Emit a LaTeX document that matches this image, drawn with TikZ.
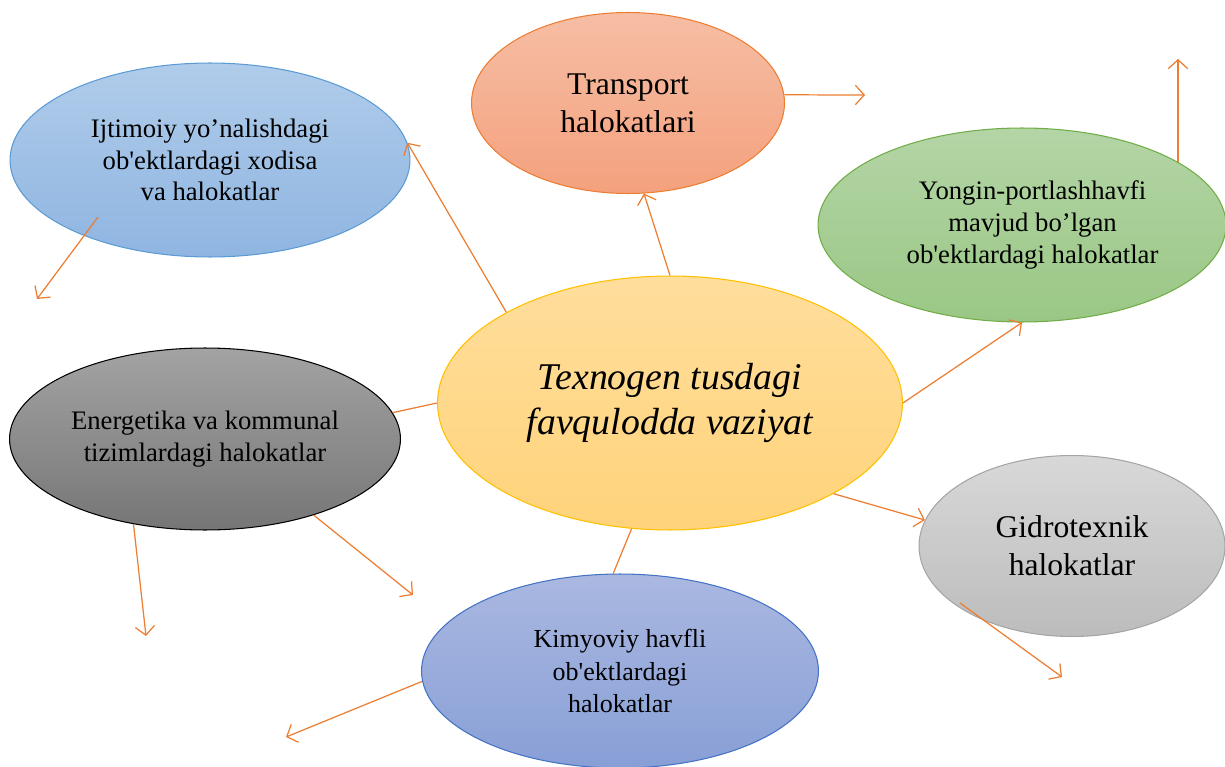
\documentclass[tikz,border=0pt]{standalone}
\usepackage{fontspec}
\setmainfont{Liberation Serif}
\usetikzlibrary{shapes.geometric,arrows.meta}
\definecolor{arrorange}{HTML}{ED7D31}
\definecolor{ijtA}{HTML}{B0CCEA}
\definecolor{ijtB}{HTML}{8FB5E1}
\definecolor{ijtL}{HTML}{5B9BD5}
\definecolor{trnA}{HTML}{F6BEA5}
\definecolor{trnB}{HTML}{F4A17D}
\definecolor{yngA}{HTML}{B4D5A6}
\definecolor{yngB}{HTML}{9AC785}
\definecolor{yngL}{HTML}{70AD47}
\definecolor{cenA}{HTML}{FFDE9C}
\definecolor{cenB}{HTML}{FFD37A}
\definecolor{cenL}{HTML}{FFC000}
\definecolor{enrA}{HTML}{A3A3A3}
\definecolor{enrB}{HTML}{767676}
\definecolor{gidA}{HTML}{D8D8D8}
\definecolor{gidB}{HTML}{BCBCBC}
\definecolor{gidL}{HTML}{A5A5A5}
\definecolor{kimA}{HTML}{AAB8E1}
\definecolor{kimB}{HTML}{889FD6}
\definecolor{kimL}{HTML}{4472C4}
\newcommand{\sqt}{\textquotesingle}
\tikzstyle{myoval} = [ellipse, inner sep=0pt, align=center, line width=0.6pt]
\tikzstyle{smalltext} = [font=\fontsize{15.2}{18}\selectfont]
\tikzstyle{bigtext} = [font=\fontsize{18}{21.5}\selectfont]
\tikzstyle{myarrow} = [draw=arrorange, line width=0.7pt, -{Straight Barb[length=5pt,width=11pt]}]
\tikzstyle{myline} = [draw=arrorange, line width=0.7pt]

\begin{document}
\begin{tikzpicture}[x=0.02cm,y=-0.02cm]
\useasboundingbox (0,0) rectangle (1225,767);
% ovals
\node [myoval, smalltext, minimum width=8cm, minimum height=3.88cm,
    top color=ijtA, bottom color=ijtB, draw=ijtL] (ijt) at (210,160)
    {Ijtimoiy yo’nalishdagi\\ ob\sqt ektlardagi xodisa\\ va halokatlar};
\node [myoval, bigtext, minimum width=6.26cm, minimum height=3.62cm,
    top color=trnA, bottom color=trnB, draw=arrorange] (trans) at (628,103)
    {Transport\\ halokatlari};
\node [myoval, smalltext, minimum width=8.16cm, minimum height=3.88cm,
    top color=yngA, bottom color=yngB, draw=yngL] (yong) at (1022,225)
    {\hspace*{12pt}Yongin-portlashhavfi\\ \hspace*{12pt}mavjud bo’lgan\\ \hspace*{12pt}ob\sqt ektlardagi halokatlar};
\node [myoval, font=\fontsize{21.5}{25.5}\selectfont\itshape, minimum width=9.3cm, minimum height=5.08cm,
    top color=cenA, bottom color=cenB, draw=cenL] (centr) at (670,403)
    {Texnogen tusdagi\\ favqulodda vaziyat};
\node [myoval, smalltext, minimum width=7.82cm, minimum height=3.64cm,
    top color=enrA, bottom color=enrB, draw=black] (energ) at (205,439)
    {Energetika va kommunal\\ tizimlardagi halokatlar};
\node [myoval, bigtext, minimum width=6.12cm, minimum height=3.62cm,
    top color=gidA, bottom color=gidB, draw=gidL] (gidro) at (1072,546)
    {Gidrotexnik\\ halokatlar};
\node [myoval, font=\fontsize{14.8}{18.3}\selectfont, minimum width=7.94cm, minimum height=3.88cm,
    top color=kimA, bottom color=kimB, draw=kimL] (kimyo) at (620,671)
    {Kimyoviy havfli\\ ob\sqt ektlardagi\\ halokatlar};
% loose ends
\coordinate (ijt-in) at (98,217);
\coordinate (ijt-out) at (37,299);
\coordinate (trans-out) at (865,95);
\coordinate (yong-out) at (1180,59);
\coordinate (gidro-in) at (960,603);
\coordinate (gidro-out) at (1062,677);
\coordinate (kimyo-out) at (286,737);
\coordinate (energ-out1) at (413,595);
\coordinate (energ-out2) at (146,636);
% connectors
\draw [myarrow] (centr.151) -- (ijt.5);
\draw [myarrow] (ijt-in) -- (ijt-out);
\draw [myarrow] (centr.90) -- (trans.-80);
\draw [myarrow] (trans.3) -- (trans-out);
\draw [myarrow] (yong.22) -- (yong.22 |- yong-out);
\draw [myarrow] (centr.east) -- (yong.south);
\draw [myarrow] (centr.-29) -- (gidro.170);
\draw [myarrow] (gidro-in) -- (gidro-out);
\draw [myline] (centr.-107) -- (kimyo.94);
\draw [myarrow] (kimyo.183) -- (kimyo-out);
\draw [myline] (energ.8) -- (centr.west);
\draw [myarrow] (energ.-35) -- (energ-out1);
\draw [myarrow] (energ.-130) -- (energ-out2);
\end{tikzpicture}
\end{document}
